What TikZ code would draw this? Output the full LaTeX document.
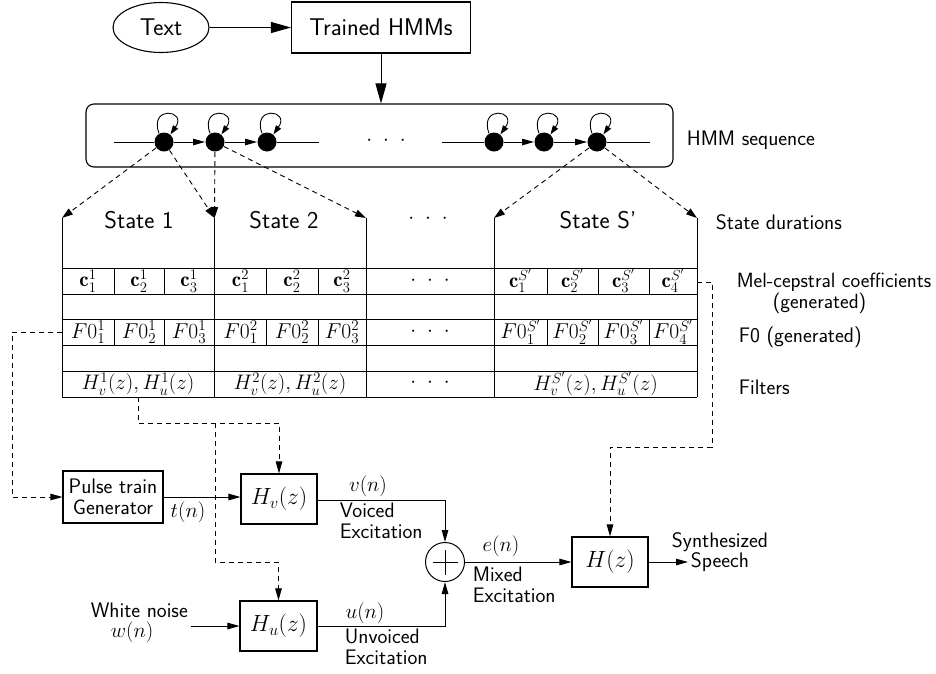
\documentclass[tikz,border=0pt]{standalone}
\usepackage{fix-cm}
\usepackage{fontspec}
\usetikzlibrary{arrows.meta,shapes.geometric}
\tikzset{
  bigfont/.style={font=\sffamily\fontsize{24.2}{28}\selectfont},
  lblfont/.style={font=\sffamily\fontsize{21}{20.5}\selectfont},
  cellfont/.style={font=\fontsize{21}{24}\selectfont, inner sep=0pt},
  fzfont/.style={font=\fontsize{21.5}{24}\selectfont, inner sep=0pt},
  sysfont/.style={font=\fontsize{23.5}{26}\selectfont},
  blk/.style={draw, rectangle, inner sep=0pt, line width=1.1pt},
  hmmstate/.style={circle, fill=black, inner sep=0pt, minimum size=19pt},
  bigtip/.style={-{Triangle[length=20pt,width=11pt]}},
  midtip/.style={-{Triangle[length=11pt,width=7pt]}},
  smalltip/.style={-{Triangle[length=12pt,width=6.5pt]}},
  looptip/.style={-{Triangle[length=9pt,width=6pt]}},
  dsh/.style={dash pattern=on 5pt off 4pt, line width=0.9pt},
  dots/.style={font=\fontsize{21}{22}\selectfont, inner sep=0pt},
}
\newcommand{\threedots}{$\cdot$\hspace{11pt}$\cdot$\hspace{11pt}$\cdot$}
\begin{document}
\begin{tikzpicture}[x=1pt,y=-1pt,line width=1pt]
\useasboundingbox (0,0) rectangle (936,673);

% ---------- input and models ----------
\node[draw, ellipse, bigfont, minimum width=96pt, minimum height=50pt, inner sep=0pt, line width=1.1pt] (txt) at (161,27.5) {Text};
\node[blk, bigfont, minimum width=179pt, minimum height=51pt] (hmms) at (381,27.5) {Trained HMMs};
\draw[bigtip] (txt.east) -- (hmms.west);

% ---------- HMM sequence ----------
\node[draw, rounded corners=8pt, minimum width=587pt, minimum height=63pt, inner sep=0pt, line width=1.1pt] (seq) at (379.5,135.5) {};
\draw[bigtip] (hmms.south) -- (hmms.south |- seq.north);
\node[lblfont, anchor=west] (seqlbl) at (683,140) {HMM sequence};

\node[hmmstate] (c1) at (164,142) {};
\node[hmmstate] (c2) at (215,142) {};
\node[hmmstate] (c3) at (267,142) {};
\node[hmmstate] (r1) at (494,142) {};
\node[hmmstate] (r2) at (544,142) {};
\node[hmmstate] (r3) at (597,142) {};
\coordinate (la) at (114,142);
\coordinate (lb) at (319,142);
\coordinate (ra) at (442,142);
\coordinate (rb) at (650,142);
\draw (la) -- (c1);
\draw[smalltip] (c1) -- (c2);
\draw[smalltip] (c2) -- (c3);
\draw (c3) -- (lb);
\draw (ra) -- (r1);
\draw[smalltip] (r1) -- (r2);
\draw[smalltip] (r2) -- (r3);
\draw (r3) -- (rb);
\foreach \s in {c1,c2,c3,r1,r2,r3}
  \draw[looptip, line width=0.9pt] (\s.120) to[out=110,in=55,distance=30pt] (\s.50);
\node[dots] (seqdots) at (386,141) {\threedots};

% ---------- state duration grid ----------
\coordinate (k0) at (62,218);
\coordinate (k1) at (214.5,218);
\coordinate (k2) at (366,218);
\coordinate (k3) at (494,218);
\coordinate (k4) at (697,218);
\foreach \x in {62,214.5,366,494,697}
  \draw (\x,218) -- (\x,397);
\foreach \y in {268,294,319,345,371,397}
  \draw (62,\y) -- (697,\y);
\foreach \x in {114,164,266.5,318,547,598,649}{
  \draw (\x,268) -- (\x,294);
  \draw (\x,319) -- (\x,345);
}
\draw[dsh, midtip] (c1) -- (k0);
\draw[dsh, midtip] (c1) -- (k1);
\draw[dsh, midtip] (c2) -- (k1);
\draw[dsh, midtip] (c2) -- (k2);
\draw[dsh, midtip] (r3) -- (k3);
\draw[dsh, midtip] (r3) -- (k4);

\node[bigfont] (st1) at (139,220) {State 1};
\node[bigfont] (st2) at (284,220) {State 2};
\node[dots] (stdots) at (428,219) {\threedots};
\node[bigfont] (sts) at (598,220) {State S'};
\node[lblfont, anchor=west] (durlbl) at (712,222) {State durations};

% mel-cepstral row
\node[cellfont] (m11) at (88,281) {$\mathbf{c}_1^1$};
\node[cellfont] (m12) at (139,281) {$\mathbf{c}_2^1$};
\node[cellfont] (m13) at (189,281) {$\mathbf{c}_3^1$};
\node[cellfont] (m21) at (240.5,281) {$\mathbf{c}_1^2$};
\node[cellfont] (m22) at (292,281) {$\mathbf{c}_2^2$};
\node[cellfont] (m23) at (342,281) {$\mathbf{c}_3^2$};
\node[dots] (mdots) at (430,281) {\threedots};
\node[cellfont] (ms1) at (520.5,281) {$\mathbf{c}_1^{S'}$};
\node[cellfont] (ms2) at (572.5,281) {$\mathbf{c}_2^{S'}$};
\node[cellfont] (ms3) at (623.5,281) {$\mathbf{c}_3^{S'}$};
\node[cellfont] (ms4) at (673,281) {$\mathbf{c}_4^{S'}$};
\node[anchor=west, align=left, font=\sffamily\fontsize{20.6}{21}\selectfont] (mellbl) at (733,293) {Mel-cepstral coefficients\\\hspace*{36pt}(generated)};

% F0 row
\node[fzfont] (f11) at (88,332) {$F0_1^1$};
\node[fzfont] (f12) at (139,332) {$F0_2^1$};
\node[fzfont] (f13) at (189,332) {$F0_3^1$};
\node[fzfont] (f21) at (240.5,332) {$F0_1^2$};
\node[fzfont] (f22) at (292,332) {$F0_2^2$};
\node[fzfont] (f23) at (342,332) {$F0_3^2$};
\node[dots] (fdots) at (430,332) {\threedots};
\node[fzfont] (fs1) at (520.5,332) {$F0_1^{S'}$};
\node[fzfont] (fs2) at (572.5,332) {$F0_2^{S'}$};
\node[fzfont] (fs3) at (623.5,332) {$F0_3^{S'}$};
\node[fzfont] (fs4) at (673,332) {$F0_4^{S'}$};
\node[lblfont, anchor=west] (f0lbl) at (735,337) {F0 (generated)};

% filter row
\node[cellfont] (h1) at (138,384) {$H_v^1(z), H_u^1(z)$};
\node[cellfont] (h2) at (290,384) {$H_v^2(z), H_u^2(z)$};
\node[dots] (hdots) at (430,383) {\threedots};
\node[cellfont] (hs) at (595.5,384) {$H_v^{S'}(z), H_u^{S'}(z)$};
\node[lblfont, anchor=west] (filtlbl) at (735,387) {Filters};

% ---------- synthesis part ----------
\node[blk, lblfont, minimum width=100pt, minimum height=52pt, align=center] (pulse) at (113,497) {Pulse train\\Generator};
\node[blk, sysfont, minimum width=76pt, minimum height=50pt] (hv) at (279,499) {$H_v(z)$};
\node[blk, sysfont, minimum width=77pt, minimum height=50pt] (hu) at (278.5,626) {$H_u(z)$};
\node[circle, draw, minimum size=39pt, inner sep=0pt] (sum) at (445,562) {};
\draw ([xshift=-12.5pt]sum.center) -- ([xshift=12.5pt]sum.center);
\draw ([yshift=-12.5pt]sum.center) -- ([yshift=12.5pt]sum.center);
\node[blk, sysfont, minimum width=76pt, minimum height=50pt] (hz) at (610,562) {$H(z)$};

\coordinate (wn) at (191,626);
\coordinate (spk) at (688,562);
\node[lblfont, anchor=west, align=left] (wnlbl) at (87,623) {White noise\\\hspace*{20pt}$w(n)$};
\node[lblfont, align=center] (spklbl) at (720,552) {Synthesized\\Speech};

\draw[smalltip] (pulse.east) -- (pulse.east -| hv.west);
\draw[smalltip] (wn) -- (hu.west);
\draw[smalltip] ([yshift=-1pt]hv.east) -| (sum.north);
\draw[smalltip] (hu.east) -| (sum.south);
\draw[smalltip] (sum.east) -- (hz.west);
\draw[smalltip] (hz.east) -- (spk);

\node[lblfont] (tn) at (188,512) {$t(n)$};
\node[lblfont] (vn) at (368,486) {$v(n)$};
\node[lblfont, anchor=west, align=left] (vlbl) at (336,521) {Voiced\\Excitation};
\node[lblfont] (un) at (365,613) {$u(n)$};
\node[lblfont, anchor=west, align=left] (ulbl) at (341,647) {Unvoiced\\Excitation};
\node[lblfont] (en) at (501,546) {$e(n)$};
\node[lblfont, anchor=west, align=left] (elbl) at (469,585) {Mixed\\Excitation};

% parameter feeds (dashed)
\coordinate (f0src) at (62,332);
\coordinate (fsrc) at (138,397);
\coordinate (fj) at (215,423);
\coordinate (msrc) at (697,282);
\draw[dsh, smalltip] (f0src) -- (12,332) |- (pulse.west);
\draw[dsh, smalltip] (fsrc) |- (hv.north |- fj) -- (hv.north);
\draw[dsh, smalltip] (fj) -- (215,562) -| (hu.north);
\draw[dsh, smalltip] (msrc) -- (712,282) -- (712,447) -| (hz.north);
\end{tikzpicture}
\end{document}
